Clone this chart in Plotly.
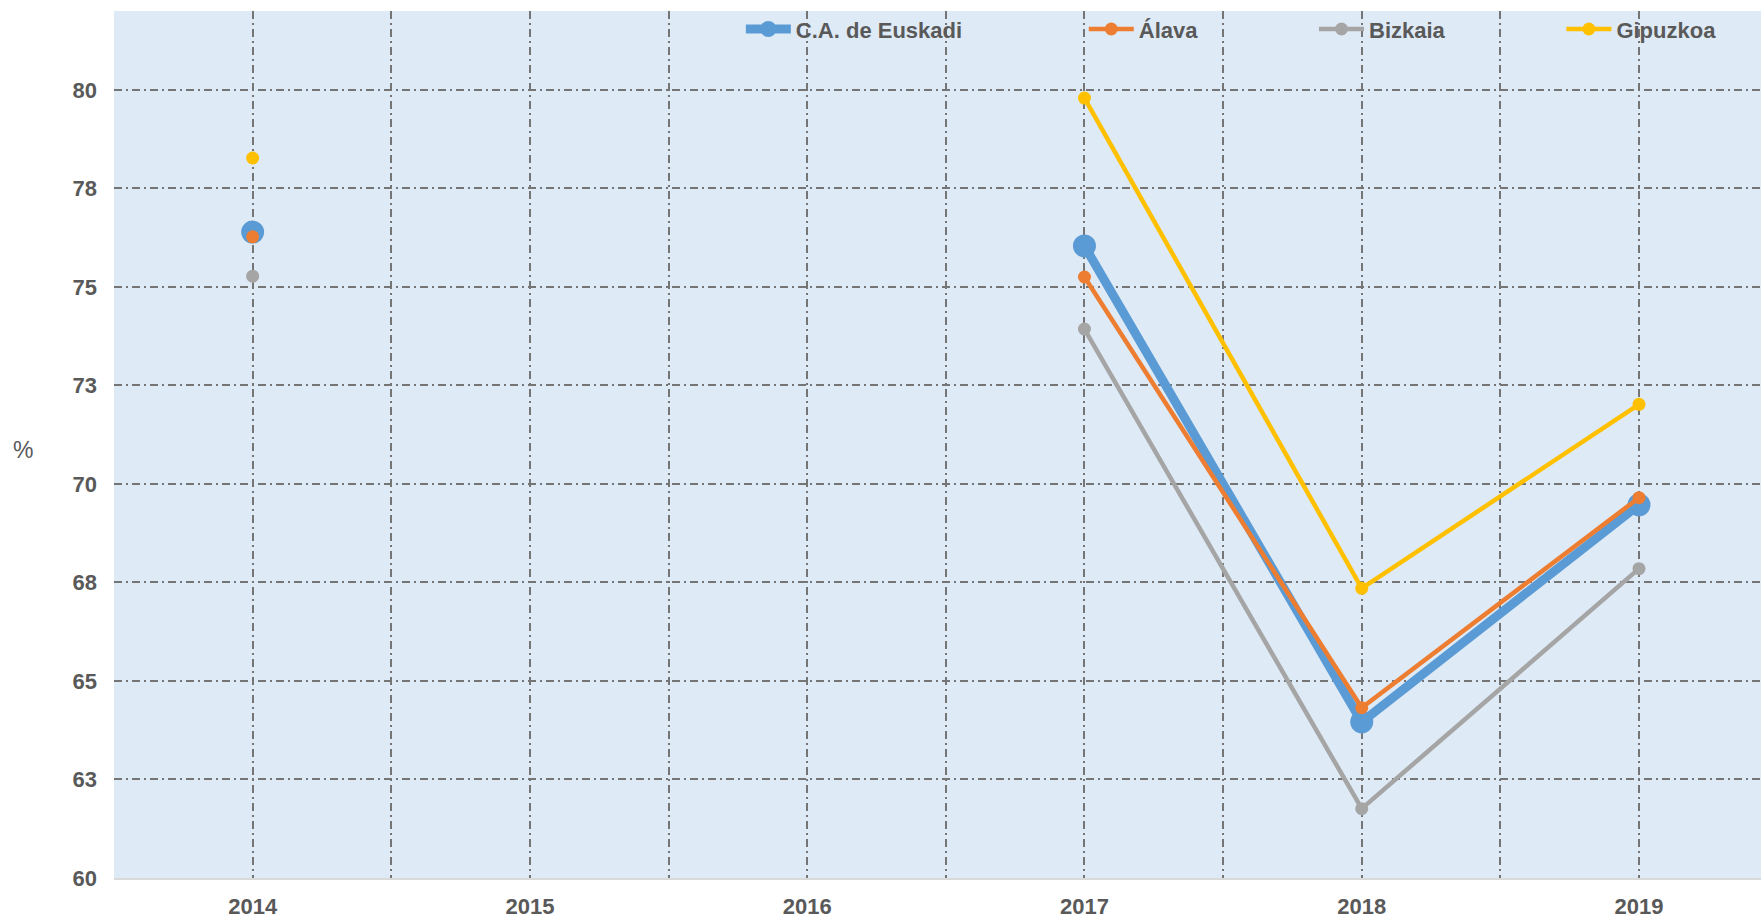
import plotly.graph_objects as go

years = [2014, 2015, 2016, 2017, 2018, 2019]
series_names = ["C.A. de Euskadi", "Álava", "Bizkaia", "Gipuzkoa"]
euskadi = [76.39, None, None, 76.04, 63.96, 69.47]
alava = [76.27, None, None, 75.25, 64.32, 69.65]
bizkaia = [75.27, None, None, 73.93, 61.76, 67.85]
gipuzkoa = [78.27, None, None, 79.79, 67.35, 72.02]

y_tickvals = [60, 62.5, 65, 67.5, 70, 72.5, 75, 77.5, 80]
y_ticktext = ["60", "63", "65", "68", "70", "73", "75", "78", "80"]
half_years = [2013.5, 2014.5, 2015.5, 2016.5, 2017.5, 2018.5]

colors = ["#5B9BD5", "#ED7D31", "#A5A5A5", "#FFC000"]
values = [euskadi, alava, bizkaia, gipuzkoa]
line_widths = [9, 4.5, 4.5, 4.5]
marker_sizes = [23, 13, 13, 13]
legend_ids = ["legend", "legend2", "legend3", "legend4"]
legend_x = [0.3806, 0.5888, 0.7286, 0.8788]

TXT = "#595959"
FONT = "Liberation Sans, Arial, sans-serif"
GRID_DASH = "8px,4px,2px,4px"
GRID_COLOR = "#757575"

fig = go.Figure()
for name, vals, c, lw, ms, lg in zip(series_names, values, colors, line_widths, marker_sizes, legend_ids):
    fig.add_trace(go.Scatter(
        x=years, y=vals, name=name, mode="lines+markers",
        line=dict(color=c, width=lw), marker=dict(color=c, size=ms),
        connectgaps=False, legend=lg,
    ))

grid = dict(showgrid=True, gridcolor=GRID_COLOR, gridwidth=1.5, griddash=GRID_DASH)

legend_common = dict(orientation="h", yanchor="middle", y=0.979, xanchor="left",
                     bgcolor="rgba(0,0,0,0)", font=dict(family=FONT, size=22, color=TXT, weight="bold"),
                     itemwidth=45)
layout_legends = {}
for lg, lx in zip(legend_ids, legend_x):
    layout_legends[lg] = dict(legend_common, x=lx)

fig.update_layout(
    width=1761, height=919,
    margin=dict(l=114, r=0, t=11, b=35),
    paper_bgcolor="white", plot_bgcolor="#DEEAF6",
    showlegend=True,
    font=dict(family=FONT, color=TXT),
    xaxis=dict(range=[2013.5, 2019.44], tickvals=years, ticktext=[str(y) for y in years],
               tickfont=dict(family=FONT, size=22, color=TXT, weight="bold"),
               ticks="", ticklabelstandoff=8,
               showline=True, linecolor="#D9D9D9", linewidth=2,
               zeroline=False,
               minor=dict(tickvals=half_years, showgrid=True, gridcolor=GRID_COLOR,
                          gridwidth=1.5, griddash=GRID_DASH, ticks=""),
               **grid),
    yaxis=dict(range=[60, 82], tickvals=y_tickvals, ticktext=y_ticktext,
               tickfont=dict(family=FONT, size=22, color=TXT, weight="bold"),
               ticks="", ticklabelstandoff=16, zeroline=False, showline=False,
               **grid),
    annotations=[dict(text="%", xref="paper", yref="paper", x=0, xshift=-91, y=0.494,
                      xanchor="center", yanchor="middle", showarrow=False,
                      font=dict(family=FONT, size=23, color=TXT))],
    **layout_legends,
)

fig.write_html("out.html", config={"displayModeBar": False},
               post_script="document.body.style.margin='0';document.body.style.overflow='hidden';")
